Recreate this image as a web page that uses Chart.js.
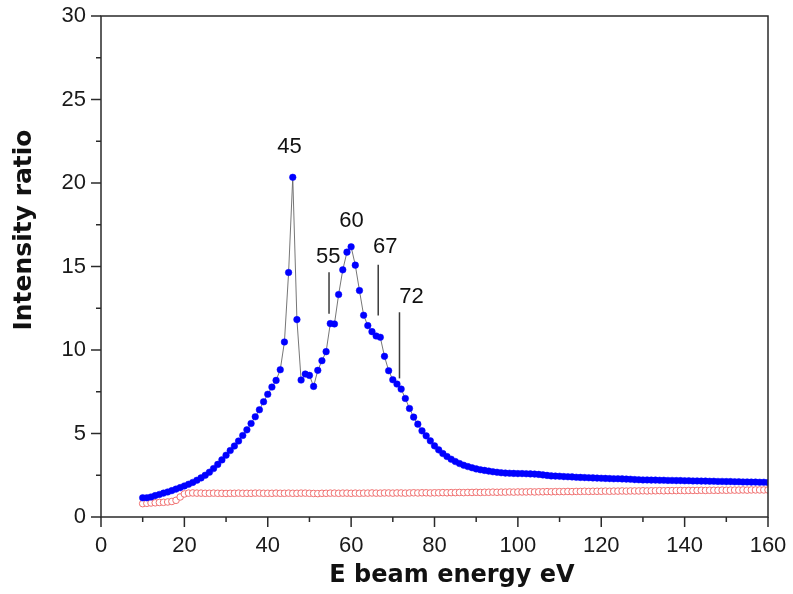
<!DOCTYPE html>
<html><head><meta charset="utf-8">
<script src="https://cdn.jsdelivr.net/npm/chart.js@4/dist/chart.umd.min.js"></script>
<style>html,body{margin:0;padding:0;background:#fff;}#wrap{width:793px;height:594px;position:relative;}</style>
</head><body><div id="wrap"><canvas id="c" width="793" height="594" style="width:793px;height:594px"></canvas></div>
<script>
// ---- data ----
const energy = [
 10,11,12,13,14,15,16,17,18,19,20,21,22,23,24,25,26,27,28,29,
 30,31,32,33,34,35,36,37,38,39,40,41,42,43,44,45,46,47,48,49,
 50,51,52,53,54,55,56,57,58,59,60,61,62,63,64,65,66,67,68,69,
 70,71,72,73,74,75,76,77,78,79,80,81,82,83,84,85,86,87,88,89,
 90,91,92,93,94,95,96,97,98,99,100,101,102,103,104,105,106,107,108,109,
 110,111,112,113,114,115,116,117,118,119,120,121,122,123,124,125,126,127,128,129,
 130,131,132,133,134,135,136,137,138,139,140,141,142,143,144,145,146,147,148,149,
 150,151,152,153,154,155,156,157,158,159,160];
const blueRatio = [
 1.15,1.15,1.20,1.28,1.35,1.43,1.50,1.58,1.67,1.76,1.86,1.96,2.07,2.20,2.34,2.50,2.68,2.90,3.15,3.42,
 3.70,3.98,4.25,4.55,4.88,5.22,5.60,6.00,6.42,6.90,7.35,7.78,8.18,8.82,10.48,14.64,20.34,11.82,8.20,8.56,
 8.48,7.82,8.78,9.36,9.90,11.58,11.56,13.32,14.80,15.86,16.18,15.08,13.56,12.08,11.46,11.10,10.84,10.76,9.62,8.76,
 8.22,7.96,7.66,7.10,6.50,5.98,5.56,5.16,4.86,4.56,4.26,4.02,3.80,3.62,3.46,3.32,3.20,3.10,3.02,2.95,
 2.88,2.83,2.79,2.75,2.71,2.68,2.65,2.63,2.62,2.61,2.60,2.60,2.59,2.58,2.57,2.55,2.52,2.49,2.46,2.45,
 2.44,2.42,2.41,2.40,2.38,2.37,2.36,2.35,2.34,2.33,2.32,2.31,2.30,2.29,2.29,2.28,2.27,2.26,2.24,2.23,
 2.22,2.22,2.21,2.21,2.20,2.20,2.19,2.19,2.18,2.18,2.17,2.17,2.16,2.16,2.15,2.15,2.14,2.14,2.13,2.13,
 2.12,2.12,2.11,2.11,2.10,2.10,2.09,2.09,2.08,2.08,2.07];
const redRatio = [
 0.80,0.82,0.84,0.85,0.87,0.88,0.90,0.93,1.00,1.20,1.38,1.43,
 1.44,1.43,1.43,1.42,1.42,1.43,1.42,1.42,1.41,1.42,1.42,1.43,1.42,1.42,1.42,1.43,1.43,1.42,1.42,
 1.42,1.43,1.42,1.42,1.43,1.42,1.42,1.43,1.43,1.42,1.41,1.40,1.42,1.42,1.43,1.43,1.42,1.43,1.43,1.42,
 1.43,1.42,1.43,1.43,1.44,1.43,1.43,1.44,1.44,1.43,1.44,1.44,1.43,1.44,1.45,1.44,1.45,1.45,1.44,1.45,
 1.45,1.46,1.45,1.46,1.46,1.47,1.46,1.47,1.47,1.48,1.47,1.48,1.48,1.49,1.48,1.49,1.49,1.50,1.49,1.50,
 1.50,1.50,1.51,1.50,1.51,1.51,1.52,1.51,1.52,1.52,1.52,1.53,1.52,1.53,1.53,1.54,1.53,1.54,1.54,1.54,
 1.55,1.54,1.55,1.55,1.56,1.55,1.56,1.56,1.56,1.57,1.56,1.57,1.57,1.58,1.57,1.58,1.58,1.58,1.59,1.58,
 1.59,1.59,1.59,1.60,1.59,1.60,1.60,1.60,1.61,1.60,1.61,1.61,1.61,1.62,1.61,1.62,1.62,1.62,1.62,1.62];
const xMajorTicks = [0,20,40,60,80,100,120,140,160];
const xMinorTicks = [10,30,50,70,90,110,130,150];
const yMajorTicks = [0,5,10,15,20,25,30];
const yMinorTicks = [2.5,7.5,12.5,17.5,22.5,27.5];
const annoLabels = ['45','55','60','67','72'];
const annoLabelX = [45.2,54.5,60.1,68.2,74.5];
const annoLabelY = [22.15,15.6,17.75,16.15,13.2];
const annoLineX  = [null,54.7,null,66.5,71.6];
const annoLineTop = [null,14.65,null,15.1,12.26];
const annoLineBottom = [null,12.17,null,12.07,8.3];
const xTitle = 'E beam energy eV';
const yTitle = 'Intensity ratio';

const blueData = energy.map((e,i)=>({x:e,y:blueRatio[i]}));
const redData = energy.map((e,i)=>({x:e,y:redRatio[i]}));

const AXIS = '#2a2a2a';
const tickFont = {family:'"Liberation Sans", Arial, sans-serif', size:22};

const framePlugin = {
  id:'framePlugin',
  afterDraw(chart){
    const {ctx, chartArea:a, scales:{x,y}} = chart;
    ctx.save();
    ctx.strokeStyle = AXIS; ctx.lineWidth = 1.5;
    const tick = (x0,y0,x1,y1)=>{ctx.beginPath();ctx.moveTo(x0,y0);ctx.lineTo(x1,y1);ctx.stroke();};
    xMajorTicks.forEach(v=>{const p=x.getPixelForValue(v); tick(p,a.bottom,p,a.bottom+10);});
    xMinorTicks.forEach(v=>{const p=x.getPixelForValue(v); tick(p,a.bottom,p,a.bottom+5);});
    yMajorTicks.forEach(v=>{const p=y.getPixelForValue(v); tick(a.left-10,p,a.left,p);});
    yMinorTicks.forEach(v=>{const p=y.getPixelForValue(v); tick(a.left-5,p,a.left,p);});
    ctx.strokeRect(a.left,a.top,a.right-a.left,a.bottom-a.top);
    // peak annotations
    ctx.strokeStyle = '#3a3a3a'; ctx.lineWidth = 1.5;
    ctx.fillStyle = '#111';
    ctx.font = '22px "Liberation Sans", Arial, sans-serif';
    ctx.textAlign = 'center'; ctx.textBaseline = 'middle';
    annoLabels.forEach((t,i)=>{
      ctx.fillText(t, x.getPixelForValue(annoLabelX[i]), y.getPixelForValue(annoLabelY[i]));
      if (annoLineX[i] !== null) {
        const p = x.getPixelForValue(annoLineX[i]);
        tick(p, y.getPixelForValue(annoLineTop[i]), p, y.getPixelForValue(annoLineBottom[i]));
      }
    });
    // axis titles
    ctx.fillStyle = '#111';
    ctx.font = 'bold 24px "DejaVu Sans", sans-serif';
    ctx.fillText(xTitle, 452, 576);
    ctx.save();
    ctx.translate(24, 230);
    ctx.rotate(-Math.PI/2);
    ctx.font = 'bold 25px "DejaVu Sans", sans-serif';
    ctx.fillText(yTitle, 0, 0);
    ctx.restore();
    ctx.restore();
  }
};

new Chart(document.getElementById('c'), {
  type:'line',
  data:{datasets:[
    {label:'ratio', data:blueData, borderColor:'#666', borderWidth:0.9, pointRadius:3.3, pointHoverRadius:3.3,
     pointBackgroundColor:'#0000ff', pointBorderColor:'#0000ff', pointBorderWidth:0.5, tension:0},
    {label:'reference', data:redData, showLine:false, pointRadius:3.3, pointHoverRadius:3.3,
     pointBackgroundColor:'#ffffff', pointBorderColor:'#f07070', pointBorderWidth:1}
  ]},
  options:{
    responsive:false, animation:false, devicePixelRatio:1,
    layout:{padding:{top:16,right:25,left:0,bottom:0}},
    plugins:{legend:{display:false}, tooltip:{enabled:false}},
    scales:{
      x:{type:'linear', min:0, max:160,
         afterBuildTicks:s=>{s.ticks = xMajorTicks.map(v=>({value:v}));},
         afterFit:s=>{s.height = 77; s.paddingLeft = 0; s.paddingRight = 0;},
         grid:{display:false}, border:{display:false},
         ticks:{font:tickFont, color:'#1a1a1a', padding:8, maxRotation:0, autoSkip:false},
         title:{display:false, text:xTitle}},
      y:{type:'linear', min:0, max:30,
         afterBuildTicks:s=>{s.ticks = yMajorTicks.map(v=>({value:v}));},
         afterFit:s=>{s.width = 101; s.paddingTop = 0; s.paddingBottom = 0;},
         grid:{display:false}, border:{display:false},
         ticks:{font:tickFont, color:'#1a1a1a', padding:7},
         title:{display:false, text:yTitle}}
    }
  },
  plugins:[framePlugin]
});
</script></body></html>
